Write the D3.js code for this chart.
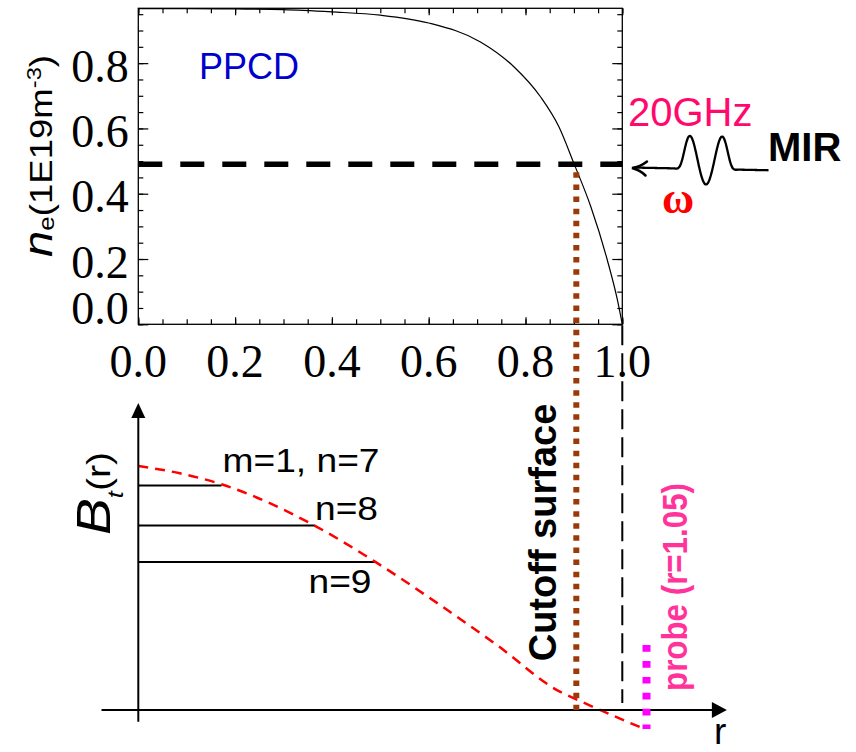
<!DOCTYPE html>
<html>
<head>
<meta charset="utf-8">
<script src="https://cdn.jsdelivr.net/npm/d3@7"></script>
<style>
  body { margin: 0; background: #fff; }
  svg { display: block; }
</style>
</head>
<body>
<svg id="chart" width="856" height="752"></svg>
<script>
// Electron density profile during PPCD, n_e(r) in 1E19 m^-3
const rProfile  = [0, 0.1, 0.2, 0.3, 0.4, 0.5, 0.6, 0.707, 0.776, 0.831, 0.869, 0.9, 0.935, 0.969, 0.99, 1.0];
const neProfile = [0.967, 0.967, 0.966, 0.964, 0.957, 0.947, 0.923, 0.865, 0.789, 0.697, 0.605, 0.493, 0.36, 0.197, 0.074, 0];
const xTickValues = [0, 0.2, 0.4, 0.6, 0.8, 1.0];
const yTickValues = [0, 0.2, 0.4, 0.6, 0.8];

// 20 GHz cutoff density and the radii marked below
const cutoffDensity = 0.49;
const cutoffRadius = 0.905;
const wallRadius = 1.0;
const probeRadius = 1.05;

// Schematic toroidal field B_t(r), arbitrary units
const rField  = [0, 0.086, 0.172, 0.365, 0.489, 0.603, 0.741, 0.871, 0.908, 1.04];
const btField = [1.0, 0.97, 0.925, 0.755, 0.608, 0.458, 0.266, 0.075, 0.041, -0.073];

// Resonant surfaces of the m=1 modes
const modeLabels = ["m=1, n=7", "n=8", "n=9"];
const modeRadius = [0.172, 0.365, 0.489];
const modeField  = [0.92, 0.756, 0.607];

const SANS = "'Liberation Sans', Arial, Helvetica, sans-serif";
const SERIF = "'Liberation Serif', 'Times New Roman', serif";

const svg = d3.select("#chart");

// ---------- upper panel: density profile ----------
const x = d3.scaleLinear().domain([0, 1]).range([138.3, 622.3]);
const y = d3.scaleLinear().domain([0, 0.968]).range([324.3, 8.3]);

const upper = svg.append("g");
const minorX = d3.range(0, 1.0001, 0.05);
const minorY = d3.range(0, 0.951, 0.05);

function ticks(axisGen, values, size, transform) {
  const g = upper.append("g").attr("transform", transform)
    .call(axisGen.tickValues(values).tickSize(size).tickFormat(""));
  g.select(".domain").remove();
  g.selectAll(".tick line").attr("stroke", "#000").attr("stroke-width", 1.2);
  return g;
}
// ticks point into the frame on all four sides
ticks(d3.axisBottom(x), minorX, -5, `translate(0,${y(0)})`);
ticks(d3.axisBottom(x), xTickValues, -7, `translate(0,${y(0)})`);
ticks(d3.axisTop(x), minorX, -5, `translate(0,${y.range()[1]})`);
ticks(d3.axisTop(x), xTickValues, -7, `translate(0,${y.range()[1]})`);
ticks(d3.axisLeft(y), minorY, -5, `translate(${x(0)},0)`);
ticks(d3.axisLeft(y), yTickValues, -10, `translate(${x(0)},0)`);
ticks(d3.axisRight(y), minorY, -5, `translate(${x(1)},0)`);
ticks(d3.axisRight(y), yTickValues, -10, `translate(${x(1)},0)`);

upper.append("rect")
  .attr("x", x(0)).attr("y", y.range()[1])
  .attr("width", x(1) - x(0)).attr("height", y(0) - y.range()[1])
  .attr("fill", "none").attr("stroke", "#000").attr("stroke-width", 1.3);

// tick labels
upper.selectAll("text.xl").data(xTickValues).join("text")
  .attr("class", "xl")
  .attr("x", d => x(d)).attr("y", y(0) + 52.7)
  .attr("text-anchor", "middle")
  .style("font-family", SERIF).style("font-size", "46px")
  .text(d => d.toFixed(1));

upper.selectAll("text.yl").data(yTickValues).join("text")
  .attr("class", "yl")
  .attr("x", x(0) - 9.5)
  .attr("y", d => y(d) + (d === 0 ? 0 : 18.5))
  .attr("text-anchor", "end")
  .style("font-family", SERIF).style("font-size", "46px")
  .text(d => d.toFixed(1));

// y axis title
const yTitle = upper.append("text")
  .attr("transform", "translate(51.5,156) rotate(-90)")
  .attr("text-anchor", "middle")
  .attr("textLength", 202).attr("lengthAdjust", "spacingAndGlyphs")
  .style("font-family", SANS).style("font-size", "31px");
yTitle.append("tspan").style("font-style", "italic").style("font-size", "40px").text("n");
yTitle.append("tspan").attr("dy", 2).style("font-size", "22px").text("e");
yTitle.append("tspan").attr("dy", -2).text("(1E19m");
yTitle.append("tspan").attr("dy", -11).style("font-size", "20px").text("-3");
yTitle.append("tspan").attr("dy", 11).text(")");

// density profile
upper.append("path")
  .datum(d3.zip(rProfile, neProfile))
  .attr("fill", "none").attr("stroke", "#000").attr("stroke-width", 1.2)
  .attr("d", d3.line().x(d => x(d[0])).y(d => y(d[1])).curve(d3.curveMonotoneX));

// cutoff density level
upper.append("line")
  .attr("x1", x(0)).attr("x2", x(1))
  .attr("y1", y(cutoffDensity)).attr("y2", y(cutoffDensity))
  .attr("stroke", "#000").attr("stroke-width", 5.5)
  .attr("stroke-dasharray", "24,18");

upper.append("text")
  .attr("x", 199).attr("y", 79)
  .style("font-family", SANS).style("font-size", "36px").attr("fill", "#0000cd")
  .text("PPCD");

// ---------- lower panel: B_t(r) schematic ----------
const yB = d3.scaleLinear().domain([0, 1]).range([710, 466]);
const lower = svg.append("g");

// resonance lines
lower.selectAll("line.mode").data(modeRadius).join("line")
  .attr("class", "mode")
  .attr("x1", x(0)).attr("x2", d => x(d))
  .attr("y1", (d, i) => yB(modeField[i])).attr("y2", (d, i) => yB(modeField[i]))
  .attr("stroke", "#000").attr("stroke-width", 2);

lower.selectAll("text.mode").data(modeLabels).join("text")
  .attr("class", "mode")
  .style("font-family", SANS).style("font-size", "33px")
  .attr("x", (d, i) => [222.5, 315, 308.5][i])
  .attr("y", (d, i) => [471.7, 520, 593.3][i])
  .attr("textLength", (d, i) => [157, 63, 63][i])
  .attr("lengthAdjust", "spacingAndGlyphs")
  .text(d => d);

// field profile
lower.append("path")
  .datum(d3.zip(rField, btField))
  .attr("fill", "none").attr("stroke", "#ff0000").attr("stroke-width", 2.5)
  .attr("stroke-dasharray", "10,7")
  .attr("d", d3.line().x(d => x(d[0])).y(d => yB(d[1])).curve(d3.curveMonotoneX));

// axes with arrows
const axX0 = x(-0.076), axX1 = x(1.216);
const axY0 = yB(-0.048), axY1 = yB(1.258);
lower.append("line")
  .attr("x1", axX0).attr("x2", axX1 - 14).attr("y1", yB(0)).attr("y2", yB(0))
  .attr("stroke", "#000").attr("stroke-width", 2);
lower.append("path")
  .attr("d", `M${axX1},${yB(0)} L${axX1 - 15},${yB(0) - 8} L${axX1 - 15},${yB(0) + 8} Z`)
  .attr("fill", "#000");
lower.append("line")
  .attr("x1", x(0)).attr("x2", x(0)).attr("y1", axY0).attr("y2", axY1 + 14)
  .attr("stroke", "#000").attr("stroke-width", 2);
lower.append("path")
  .attr("d", `M${x(0)},${axY1} L${x(0) - 7},${axY1 + 15} L${x(0) + 7},${axY1 + 15} Z`)
  .attr("fill", "#000");

const btTitle = lower.append("text")
  .attr("transform", "translate(110,535) rotate(-90)")
  .attr("textLength", 83).attr("lengthAdjust", "spacingAndGlyphs")
  .style("font-family", SANS).style("font-size", "34px");
btTitle.append("tspan").style("font-style", "italic").style("font-size", "48px").text("B");
btTitle.append("tspan").attr("dy", 13).style("font-style", "italic").style("font-size", "22px").text("t");
btTitle.append("tspan").attr("dy", -13).text("(r)");

lower.append("text")
  .attr("x", 714).attr("y", 744)
  .style("font-family", SANS).style("font-size", "37px")
  .text("r");

// wall (r = 1)
svg.append("line")
  .attr("x1", x(wallRadius)).attr("x2", x(wallRadius))
  .attr("y1", y(0) + 1).attr("y2", yB(0) - 7)
  .attr("stroke", "#000").attr("stroke-width", 2)
  .attr("stroke-dasharray", "20,8");

// cutoff surface
svg.append("line")
  .attr("x1", x(cutoffRadius)).attr("x2", x(cutoffRadius))
  .attr("y1", y(cutoffDensity) + 8).attr("y2", yB(0))
  .attr("stroke", "#9a3a08").attr("stroke-width", 6)
  .attr("stroke-dasharray", "5.5,6.6");

svg.append("text")
  .attr("transform", "translate(556,532.5) rotate(-90)")
  .attr("text-anchor", "middle")
  .style("font-family", SANS).style("font-size", "38px").style("font-weight", "bold")
  .text("Cutoff surface");

// edge probe
svg.append("line")
  .attr("x1", x(probeRadius)).attr("x2", x(probeRadius))
  .attr("y1", yB(0.266)).attr("y2", yB(-0.078))
  .attr("stroke", "#ff00ff").attr("stroke-width", 8)
  .attr("stroke-dasharray", "6.7,9.2");

svg.append("text")
  .attr("transform", "translate(686.5,587) rotate(-90)")
  .attr("text-anchor", "middle")
  .attr("textLength", 208).attr("lengthAdjust", "spacingAndGlyphs")
  .style("font-family", SANS).style("font-size", "35px").style("font-weight", "bold")
  .attr("fill", "#ff3399")
  .text("probe (r=1.05)");

// ---------- microwave launch annotation ----------
const ann = svg.append("g");
ann.append("text")
  .attr("x", 628).attr("y", 126)
  .style("font-family", SANS).style("font-size", "40px").attr("fill", "#ff0a6c")
  .text("20GHz");
ann.append("text")
  .attr("x", 768).attr("y", 160.7)
  .style("font-family", SANS).style("font-size", "40px").style("font-weight", "bold")
  .text("MIR");
ann.append("text")
  .attr("x", 662).attr("y", 213)
  .style("font-family", SERIF).style("font-size", "44px").style("font-weight", "bold")
  .attr("fill", "#ff0000")
  .text("\u03c9");

// wave packet glyph travelling toward the plasma
const wc = 706, wl = 35;
const waveGlyph = d3.range(634, 769, 0.5).map(px => {
  const d = px - wc;
  const env = Math.exp(-Math.pow(d / 24.3, 6));
  return [px, 169 + 0.02 * d + env * (26 * Math.cos(2 * Math.PI * d / wl) - 10.5)];
});
ann.append("path")
  .datum(waveGlyph)
  .attr("fill", "none").attr("stroke", "#000").attr("stroke-width", 2.3)
  .attr("d", d3.line().curve(d3.curveBasis));
ann.append("path")
  .attr("d", "M647,161.5 Q640,167 632,168 Q640,170 645.5,175.5")
  .attr("fill", "none").attr("stroke", "#000").attr("stroke-width", 2.5)
  .attr("stroke-linecap", "round");
</script>
</body>
</html>
